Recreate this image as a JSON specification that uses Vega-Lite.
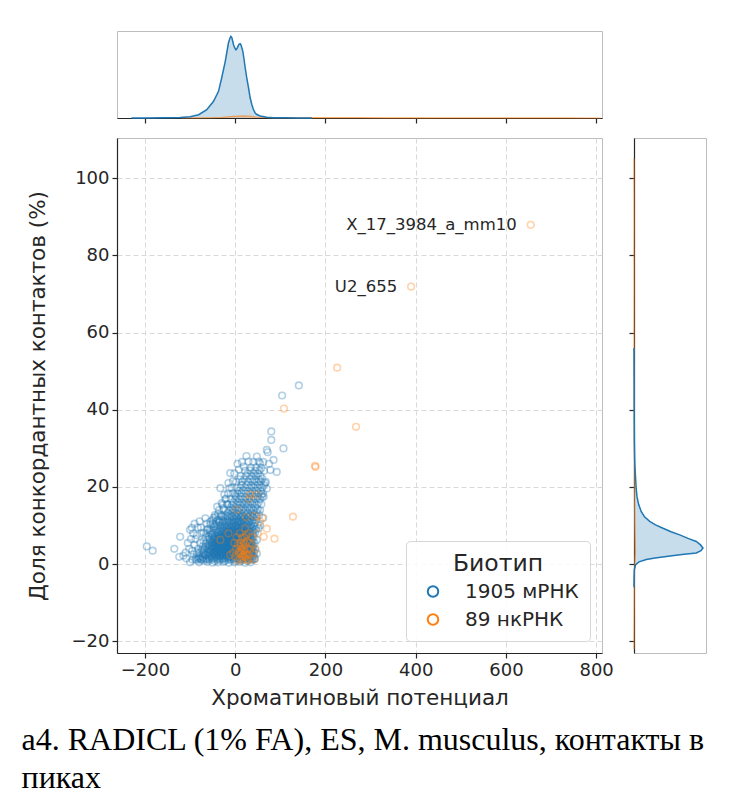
{
  "$schema": "https://vega.github.io/schema/vega-lite/v6.json",
  "padding": {"top": 30, "left": 21, "right": 5, "bottom": 5},
  "autosize": {"type": "pad"},
  "title": {
    "text": ["a4. RADICL (1% FA), ES, M. musculus, контакты в", "пиках"],
    "orient": "bottom", "anchor": "start", "frame": "bounds",
    "font": "Liberation Serif", "fontSize": 32, "fontWeight": "normal", "color": "#000000",
    "lineHeight": 38, "offset": 16, "dx": -5
  },
  "columns": 2,
  "spacing": {"row": 20, "column": 32},
  "bounds": "flush",
  "resolve": {"scale": {"color": "independent"}, "legend": {"color": "independent"}},
  "datasets": {
    "pts": [
      {"x":-85,"y":1.0,"g":"1905 мРНК"},{"x":-70,"y":0.9,"g":"1905 мРНК"},{"x":-58,"y":1.1,"g":"1905 мРНК"},{"x":-46,"y":0.8,"g":"1905 мРНК"},{"x":-34,"y":1.0,"g":"1905 мРНК"},{"x":-22,"y":0.9,"g":"1905 мРНК"},{"x":-10,"y":1.1,"g":"1905 мРНК"},{"x":2,"y":0.8,"g":"1905 мРНК"},{"x":14,"y":1.0,"g":"1905 мРНК"},{"x":26,"y":0.9,"g":"1905 мРНК"},{"x":38,"y":1.1,"g":"1905 мРНК"},
      {"x":-100,"y":0.5,"g":"1905 мРНК"},{"x":-80,"y":0.5,"g":"1905 мРНК"},{"x":-62,"y":0.6,"g":"1905 мРНК"},{"x":-50,"y":0.4,"g":"1905 мРНК"},{"x":-38,"y":0.5,"g":"1905 мРНК"},{"x":-26,"y":0.6,"g":"1905 мРНК"},{"x":-14,"y":0.4,"g":"1905 мРНК"},{"x":-2,"y":0.5,"g":"1905 мРНК"},{"x":10,"y":0.6,"g":"1905 мРНК"},{"x":22,"y":0.4,"g":"1905 мРНК"},{"x":34,"y":0.5,"g":"1905 мРНК"},
      {"x":-88,"y":1.3,"g":"1905 мРНК"},{"x":-76,"y":1.3,"g":"1905 мРНК"},{"x":-64,"y":1.2,"g":"1905 мРНК"},{"x":-52,"y":1.3,"g":"1905 мРНК"},{"x":-40,"y":1.2,"g":"1905 мРНК"},{"x":-28,"y":1.3,"g":"1905 мРНК"},{"x":-16,"y":1.2,"g":"1905 мРНК"},{"x":-4,"y":1.3,"g":"1905 мРНК"},{"x":8,"y":1.2,"g":"1905 мРНК"},{"x":20,"y":1.3,"g":"1905 мРНК"},{"x":32,"y":1.2,"g":"1905 мРНК"},{"x":42,"y":1.3,"g":"1905 мРНК"},
      {"x":-82,"y":1.45,"g":"1905 мРНК"},{"x":-70,"y":1.45,"g":"1905 мРНК"},{"x":-58,"y":1.45,"g":"1905 мРНК"},{"x":-46,"y":1.45,"g":"1905 мРНК"},{"x":-34,"y":1.45,"g":"1905 мРНК"},{"x":-22,"y":1.45,"g":"1905 мРНК"},{"x":-10,"y":1.45,"g":"1905 мРНК"},{"x":2,"y":1.45,"g":"1905 мРНК"},{"x":14,"y":1.45,"g":"1905 мРНК"},{"x":26,"y":1.45,"g":"1905 мРНК"},{"x":37,"y":1.45,"g":"1905 мРНК"},
      {"x":-78,"y":1.6,"g":"1905 мРНК"},{"x":-64,"y":1.5,"g":"1905 мРНК"},{"x":-52,"y":1.7,"g":"1905 мРНК"},{"x":-40,"y":1.6,"g":"1905 мРНК"},{"x":-28,"y":1.5,"g":"1905 мРНК"},{"x":-16,"y":1.7,"g":"1905 мРНК"},{"x":-4,"y":1.6,"g":"1905 мРНК"},{"x":8,"y":1.5,"g":"1905 мРНК"},{"x":20,"y":1.7,"g":"1905 мРНК"},{"x":32,"y":1.6,"g":"1905 мРНК"},{"x":44,"y":1.5,"g":"1905 мРНК"},
      {"x":-72,"y":1.9,"g":"1905 мРНК"},{"x":-60,"y":1.9,"g":"1905 мРНК"},{"x":-50,"y":2.0,"g":"1905 мРНК"},{"x":-42,"y":1.9,"g":"1905 мРНК"},{"x":-34,"y":2.0,"g":"1905 мРНК"},{"x":-26,"y":1.9,"g":"1905 мРНК"},{"x":-19,"y":2.0,"g":"1905 мРНК"},{"x":-12,"y":1.9,"g":"1905 мРНК"},{"x":-5,"y":2.0,"g":"1905 мРНК"},{"x":3,"y":1.9,"g":"1905 мРНК"},{"x":10,"y":2.0,"g":"1905 мРНК"},{"x":17,"y":1.9,"g":"1905 мРНК"},{"x":25,"y":2.0,"g":"1905 мРНК"},{"x":34,"y":1.9,"g":"1905 мРНК"},{"x":41,"y":2.0,"g":"1905 мРНК"},
      {"x":-55,"y":2.2,"g":"1905 мРНК"},{"x":-45,"y":2.3,"g":"1905 мРНК"},{"x":-36,"y":2.1,"g":"1905 мРНК"},{"x":-28,"y":2.2,"g":"1905 мРНК"},{"x":-20,"y":2.3,"g":"1905 мРНК"},{"x":-13,"y":2.1,"g":"1905 мРНК"},{"x":-6,"y":2.2,"g":"1905 мРНК"},{"x":1,"y":2.3,"g":"1905 мРНК"},{"x":8,"y":2.1,"g":"1905 мРНК"},{"x":15,"y":2.2,"g":"1905 мРНК"},{"x":22,"y":2.3,"g":"1905 мРНК"},{"x":30,"y":2.1,"g":"1905 мРНК"},{"x":38,"y":2.2,"g":"1905 мРНК"},
      {"x":-65,"y":2.4,"g":"1905 мРНК"},{"x":-53,"y":2.4,"g":"1905 мРНК"},{"x":-43,"y":2.4,"g":"1905 мРНК"},{"x":-35,"y":2.4,"g":"1905 мРНК"},{"x":-27,"y":2.4,"g":"1905 мРНК"},{"x":-19,"y":2.4,"g":"1905 мРНК"},{"x":-11,"y":2.4,"g":"1905 мРНК"},{"x":-4,"y":2.4,"g":"1905 мРНК"},{"x":3,"y":2.4,"g":"1905 мРНК"},{"x":10,"y":2.4,"g":"1905 мРНК"},{"x":18,"y":2.4,"g":"1905 мРНК"},{"x":26,"y":2.4,"g":"1905 мРНК"},{"x":34,"y":2.4,"g":"1905 мРНК"},
      {"x":-70,"y":2.6,"g":"1905 мРНК"},{"x":-48,"y":2.7,"g":"1905 мРНК"},{"x":-40,"y":2.6,"g":"1905 мРНК"},{"x":-31,"y":2.5,"g":"1905 мРНК"},{"x":-23,"y":2.7,"g":"1905 мРНК"},{"x":-16,"y":2.6,"g":"1905 мРНК"},{"x":-9,"y":2.5,"g":"1905 мРНК"},{"x":-2,"y":2.7,"g":"1905 мРНК"},{"x":5,"y":2.6,"g":"1905 мРНК"},{"x":13,"y":2.5,"g":"1905 мРНК"},{"x":21,"y":2.7,"g":"1905 мРНК"},{"x":29,"y":2.6,"g":"1905 мРНК"},
      {"x":-80,"y":2.9,"g":"1905 мРНК"},{"x":-58,"y":2.9,"g":"1905 мРНК"},{"x":-45,"y":2.8,"g":"1905 мРНК"},{"x":-37,"y":2.9,"g":"1905 мРНК"},{"x":-29,"y":2.8,"g":"1905 мРНК"},{"x":-21,"y":2.9,"g":"1905 мРНК"},{"x":-14,"y":2.8,"g":"1905 мРНК"},{"x":-7,"y":2.9,"g":"1905 мРНК"},{"x":0,"y":2.8,"g":"1905 мРНК"},{"x":7,"y":2.9,"g":"1905 мРНК"},{"x":14,"y":2.8,"g":"1905 мРНК"},{"x":21,"y":2.9,"g":"1905 мРНК"},{"x":28,"y":2.8,"g":"1905 мРНК"},{"x":36,"y":2.9,"g":"1905 мРНК"},
      {"x":-62,"y":3.1,"g":"1905 мРНК"},{"x":-50,"y":3.0,"g":"1905 мРНК"},{"x":-41,"y":3.2,"g":"1905 мРНК"},{"x":-33,"y":3.1,"g":"1905 мРНК"},{"x":-25,"y":3.0,"g":"1905 мРНК"},{"x":-17,"y":3.2,"g":"1905 мРНК"},{"x":-10,"y":3.1,"g":"1905 мРНК"},{"x":-3,"y":3.0,"g":"1905 мРНК"},{"x":4,"y":3.2,"g":"1905 мРНК"},{"x":11,"y":3.1,"g":"1905 мРНК"},{"x":18,"y":3.0,"g":"1905 мРНК"},{"x":26,"y":3.2,"g":"1905 мРНК"},{"x":34,"y":3.1,"g":"1905 мРНК"},{"x":42,"y":3.0,"g":"1905 мРНК"},
      {"x":-70,"y":3.3,"g":"1905 мРНК"},{"x":-57,"y":3.3,"g":"1905 мРНК"},{"x":-47,"y":3.3,"g":"1905 мРНК"},{"x":-38,"y":3.3,"g":"1905 мРНК"},{"x":-30,"y":3.3,"g":"1905 мРНК"},{"x":-22,"y":3.3,"g":"1905 мРНК"},{"x":-14,"y":3.3,"g":"1905 мРНК"},{"x":-7,"y":3.3,"g":"1905 мРНК"},{"x":0,"y":3.3,"g":"1905 мРНК"},{"x":7,"y":3.3,"g":"1905 мРНК"},{"x":14,"y":3.3,"g":"1905 мРНК"},{"x":21,"y":3.3,"g":"1905 мРНК"},{"x":29,"y":3.3,"g":"1905 мРНК"},{"x":38,"y":3.3,"g":"1905 мРНК"},
      {"x":-75,"y":3.5,"g":"1905 мРНК"},{"x":-54,"y":3.6,"g":"1905 мРНК"},{"x":-44,"y":3.4,"g":"1905 мРНК"},{"x":-35,"y":3.5,"g":"1905 мРНК"},{"x":-27,"y":3.6,"g":"1905 мРНК"},{"x":-19,"y":3.4,"g":"1905 мРНК"},{"x":-12,"y":3.5,"g":"1905 мРНК"},{"x":-5,"y":3.6,"g":"1905 мРНК"},{"x":2,"y":3.4,"g":"1905 мРНК"},{"x":9,"y":3.5,"g":"1905 мРНК"},{"x":16,"y":3.6,"g":"1905 мРНК"},{"x":23,"y":3.4,"g":"1905 мРНК"},{"x":31,"y":3.5,"g":"1905 мРНК"},
      {"x":-68,"y":3.8,"g":"1905 мРНК"},{"x":-52,"y":3.8,"g":"1905 мРНК"},{"x":-42,"y":3.7,"g":"1905 мРНК"},{"x":-33,"y":3.8,"g":"1905 мРНК"},{"x":-25,"y":3.7,"g":"1905 мРНК"},{"x":-17,"y":3.8,"g":"1905 мРНК"},{"x":-10,"y":3.7,"g":"1905 мРНК"},{"x":-3,"y":3.8,"g":"1905 мРНК"},{"x":4,"y":3.7,"g":"1905 мРНК"},{"x":11,"y":3.8,"g":"1905 мРНК"},{"x":18,"y":3.7,"g":"1905 мРНК"},{"x":25,"y":3.8,"g":"1905 мРНК"},{"x":33,"y":3.7,"g":"1905 мРНК"},{"x":44,"y":3.8,"g":"1905 мРНК"},
      {"x":-58,"y":4.0,"g":"1905 мРНК"},{"x":-47,"y":4.1,"g":"1905 мРНК"},{"x":-38,"y":3.9,"g":"1905 мРНК"},{"x":-30,"y":4.0,"g":"1905 мРНК"},{"x":-22,"y":4.1,"g":"1905 мРНК"},{"x":-14,"y":3.9,"g":"1905 мРНК"},{"x":-8,"y":4.0,"g":"1905 мРНК"},{"x":-1,"y":4.1,"g":"1905 мРНК"},{"x":6,"y":3.9,"g":"1905 мРНК"},{"x":12,"y":4.0,"g":"1905 мРНК"},{"x":19,"y":4.1,"g":"1905 мРНК"},{"x":27,"y":3.9,"g":"1905 мРНК"},{"x":36,"y":4.0,"g":"1905 мРНК"},
      {"x":-62,"y":4.2,"g":"1905 мРНК"},{"x":-51,"y":4.2,"g":"1905 мРНК"},{"x":-43,"y":4.2,"g":"1905 мРНК"},{"x":-35,"y":4.2,"g":"1905 мРНК"},{"x":-27,"y":4.2,"g":"1905 мРНК"},{"x":-19,"y":4.2,"g":"1905 мРНК"},{"x":-12,"y":4.2,"g":"1905 мРНК"},{"x":-5,"y":4.2,"g":"1905 мРНК"},{"x":2,"y":4.2,"g":"1905 мРНК"},{"x":9,"y":4.2,"g":"1905 мРНК"},{"x":15,"y":4.2,"g":"1905 мРНК"},{"x":22,"y":4.2,"g":"1905 мРНК"},{"x":30,"y":4.2,"g":"1905 мРНК"},{"x":39,"y":4.2,"g":"1905 мРНК"},
      {"x":-66,"y":4.4,"g":"1905 мРНК"},{"x":-50,"y":4.5,"g":"1905 мРНК"},{"x":-41,"y":4.3,"g":"1905 мРНК"},{"x":-32,"y":4.4,"g":"1905 мРНК"},{"x":-24,"y":4.5,"g":"1905 мРНК"},{"x":-16,"y":4.3,"g":"1905 мРНК"},{"x":-10,"y":4.4,"g":"1905 мРНК"},{"x":-3,"y":4.5,"g":"1905 мРНК"},{"x":4,"y":4.3,"g":"1905 мРНК"},{"x":10,"y":4.4,"g":"1905 мРНК"},{"x":17,"y":4.5,"g":"1905 мРНК"},{"x":25,"y":4.3,"g":"1905 мРНК"},{"x":33,"y":4.4,"g":"1905 мРНК"},
      {"x":-72,"y":4.6,"g":"1905 мРНК"},{"x":-56,"y":4.6,"g":"1905 мРНК"},{"x":-46,"y":4.7,"g":"1905 мРНК"},{"x":-37,"y":4.6,"g":"1905 мРНК"},{"x":-29,"y":4.7,"g":"1905 мРНК"},{"x":-21,"y":4.6,"g":"1905 мРНК"},{"x":-13,"y":4.7,"g":"1905 мРНК"},{"x":-7,"y":4.6,"g":"1905 мРНК"},{"x":0,"y":4.7,"g":"1905 мРНК"},{"x":7,"y":4.6,"g":"1905 мРНК"},{"x":14,"y":4.7,"g":"1905 мРНК"},{"x":21,"y":4.6,"g":"1905 мРНК"},{"x":28,"y":4.7,"g":"1905 мРНК"},{"x":37,"y":4.6,"g":"1905 мРНК"},
      {"x":-52,"y":4.8,"g":"1905 мРНК"},{"x":-43,"y":4.9,"g":"1905 мРНК"},{"x":-34,"y":4.7,"g":"1905 мРНК"},{"x":-26,"y":4.8,"g":"1905 мРНК"},{"x":-18,"y":4.9,"g":"1905 мРНК"},{"x":-11,"y":4.7,"g":"1905 мРНК"},{"x":-4,"y":4.8,"g":"1905 мРНК"},{"x":3,"y":4.9,"g":"1905 мРНК"},{"x":9,"y":4.7,"g":"1905 мРНК"},{"x":16,"y":4.8,"g":"1905 мРНК"},{"x":24,"y":4.9,"g":"1905 мРНК"},{"x":31,"y":4.7,"g":"1905 мРНК"},{"x":40,"y":4.8,"g":"1905 мРНК"},
      {"x":-57,"y":5.0,"g":"1905 мРНК"},{"x":-48,"y":5.0,"g":"1905 мРНК"},{"x":-39,"y":5.0,"g":"1905 мРНК"},{"x":-31,"y":5.0,"g":"1905 мРНК"},{"x":-23,"y":5.0,"g":"1905 мРНК"},{"x":-15,"y":5.0,"g":"1905 мРНК"},{"x":-8,"y":5.0,"g":"1905 мРНК"},{"x":-1,"y":5.0,"g":"1905 мРНК"},{"x":6,"y":5.0,"g":"1905 мРНК"},{"x":13,"y":5.0,"g":"1905 мРНК"},{"x":20,"y":5.0,"g":"1905 мРНК"},{"x":27,"y":5.0,"g":"1905 мРНК"},{"x":36,"y":5.0,"g":"1905 мРНК"},
      {"x":-60,"y":5.2,"g":"1905 мРНК"},{"x":-45,"y":5.3,"g":"1905 мРНК"},{"x":-36,"y":5.1,"g":"1905 мРНК"},{"x":-28,"y":5.2,"g":"1905 мРНК"},{"x":-20,"y":5.3,"g":"1905 мРНК"},{"x":-13,"y":5.1,"g":"1905 мРНК"},{"x":-6,"y":5.2,"g":"1905 мРНК"},{"x":1,"y":5.3,"g":"1905 мРНК"},{"x":7,"y":5.1,"g":"1905 мРНК"},{"x":14,"y":5.2,"g":"1905 мРНК"},{"x":21,"y":5.3,"g":"1905 мРНК"},{"x":29,"y":5.1,"g":"1905 мРНК"},
      {"x":-65,"y":5.4,"g":"1905 мРНК"},{"x":-52,"y":5.5,"g":"1905 мРНК"},{"x":-40,"y":5.4,"g":"1905 мРНК"},{"x":-32,"y":5.5,"g":"1905 мРНК"},{"x":-24,"y":5.4,"g":"1905 мРНК"},{"x":-16,"y":5.5,"g":"1905 мРНК"},{"x":-9,"y":5.4,"g":"1905 мРНК"},{"x":-3,"y":5.5,"g":"1905 мРНК"},{"x":4,"y":5.4,"g":"1905 мРНК"},{"x":11,"y":5.5,"g":"1905 мРНК"},{"x":18,"y":5.4,"g":"1905 мРНК"},{"x":25,"y":5.5,"g":"1905 мРНК"},{"x":33,"y":5.4,"g":"1905 мРНК"},{"x":43,"y":5.5,"g":"1905 мРНК"},
      {"x":-48,"y":5.7,"g":"1905 мРНК"},{"x":-39,"y":5.8,"g":"1905 мРНК"},{"x":-30,"y":5.6,"g":"1905 мРНК"},{"x":-22,"y":5.7,"g":"1905 мРНК"},{"x":-15,"y":5.8,"g":"1905 мРНК"},{"x":-8,"y":5.6,"g":"1905 мРНК"},{"x":-2,"y":5.7,"g":"1905 мРНК"},{"x":5,"y":5.8,"g":"1905 мРНК"},{"x":11,"y":5.6,"g":"1905 мРНК"},{"x":18,"y":5.7,"g":"1905 мРНК"},{"x":26,"y":5.8,"g":"1905 мРНК"},{"x":35,"y":5.6,"g":"1905 мРНК"},
      {"x":-52,"y":5.9,"g":"1905 мРНК"},{"x":-43,"y":5.9,"g":"1905 мРНК"},{"x":-35,"y":5.9,"g":"1905 мРНК"},{"x":-27,"y":5.9,"g":"1905 мРНК"},{"x":-19,"y":5.9,"g":"1905 мРНК"},{"x":-12,"y":5.9,"g":"1905 мРНК"},{"x":-5,"y":5.9,"g":"1905 мРНК"},{"x":2,"y":5.9,"g":"1905 мРНК"},{"x":8,"y":5.9,"g":"1905 мРНК"},{"x":15,"y":5.9,"g":"1905 мРНК"},{"x":22,"y":5.9,"g":"1905 мРНК"},{"x":30,"y":5.9,"g":"1905 мРНК"},{"x":39,"y":5.9,"g":"1905 мРНК"},
      {"x":-56,"y":6.1,"g":"1905 мРНК"},{"x":-41,"y":6.2,"g":"1905 мРНК"},{"x":-33,"y":6.0,"g":"1905 мРНК"},{"x":-25,"y":6.1,"g":"1905 мРНК"},{"x":-17,"y":6.2,"g":"1905 мРНК"},{"x":-10,"y":6.0,"g":"1905 мРНК"},{"x":-4,"y":6.1,"g":"1905 мРНК"},{"x":3,"y":6.2,"g":"1905 мРНК"},{"x":10,"y":6.0,"g":"1905 мРНК"},{"x":16,"y":6.1,"g":"1905 мРНК"},{"x":23,"y":6.2,"g":"1905 мРНК"},{"x":32,"y":6.0,"g":"1905 мРНК"},
      {"x":-62,"y":6.3,"g":"1905 мРНК"},{"x":-48,"y":6.4,"g":"1905 мРНК"},{"x":-37,"y":6.3,"g":"1905 мРНК"},{"x":-29,"y":6.4,"g":"1905 мРНК"},{"x":-21,"y":6.3,"g":"1905 мРНК"},{"x":-14,"y":6.4,"g":"1905 мРНК"},{"x":-7,"y":6.3,"g":"1905 мРНК"},{"x":0,"y":6.4,"g":"1905 мРНК"},{"x":6,"y":6.3,"g":"1905 мРНК"},{"x":13,"y":6.4,"g":"1905 мРНК"},{"x":19,"y":6.3,"g":"1905 мРНК"},{"x":26,"y":6.4,"g":"1905 мРНК"},{"x":35,"y":6.3,"g":"1905 мРНК"},
      {"x":-44,"y":6.6,"g":"1905 мРНК"},{"x":-35,"y":6.7,"g":"1905 мРНК"},{"x":-27,"y":6.5,"g":"1905 мРНК"},{"x":-19,"y":6.6,"g":"1905 мРНК"},{"x":-12,"y":6.7,"g":"1905 мРНК"},{"x":-6,"y":6.5,"g":"1905 мРНК"},{"x":1,"y":6.6,"g":"1905 мРНК"},{"x":8,"y":6.7,"g":"1905 мРНК"},{"x":14,"y":6.5,"g":"1905 мРНК"},{"x":21,"y":6.6,"g":"1905 мРНК"},{"x":29,"y":6.7,"g":"1905 мРНК"},{"x":38,"y":6.5,"g":"1905 мРНК"},
      {"x":-47,"y":6.8,"g":"1905 мРНК"},{"x":-39,"y":6.8,"g":"1905 мРНК"},{"x":-31,"y":6.8,"g":"1905 мРНК"},{"x":-23,"y":6.8,"g":"1905 мРНК"},{"x":-16,"y":6.8,"g":"1905 мРНК"},{"x":-9,"y":6.8,"g":"1905 мРНК"},{"x":-2,"y":6.8,"g":"1905 мРНК"},{"x":5,"y":6.8,"g":"1905 мРНК"},{"x":11,"y":6.8,"g":"1905 мРНК"},{"x":18,"y":6.8,"g":"1905 мРНК"},{"x":25,"y":6.8,"g":"1905 мРНК"},{"x":34,"y":6.8,"g":"1905 мРНК"},
      {"x":-50,"y":7.0,"g":"1905 мРНК"},{"x":-37,"y":7.1,"g":"1905 мРНК"},{"x":-29,"y":6.9,"g":"1905 мРНК"},{"x":-21,"y":7.0,"g":"1905 мРНК"},{"x":-14,"y":7.1,"g":"1905 мРНК"},{"x":-7,"y":6.9,"g":"1905 мРНК"},{"x":0,"y":7.0,"g":"1905 мРНК"},{"x":6,"y":7.1,"g":"1905 мРНК"},{"x":13,"y":6.9,"g":"1905 мРНК"},{"x":20,"y":7.0,"g":"1905 мРНК"},{"x":28,"y":7.1,"g":"1905 мРНК"},
      {"x":-58,"y":7.2,"g":"1905 мРНК"},{"x":-44,"y":7.3,"g":"1905 мРНК"},{"x":-33,"y":7.2,"g":"1905 мРНК"},{"x":-25,"y":7.3,"g":"1905 мРНК"},{"x":-17,"y":7.2,"g":"1905 мРНК"},{"x":-10,"y":7.3,"g":"1905 мРНК"},{"x":-4,"y":7.2,"g":"1905 мРНК"},{"x":3,"y":7.3,"g":"1905 мРНК"},{"x":9,"y":7.2,"g":"1905 мРНК"},{"x":16,"y":7.3,"g":"1905 мРНК"},{"x":23,"y":7.2,"g":"1905 мРНК"},{"x":31,"y":7.3,"g":"1905 мРНК"},{"x":41,"y":7.2,"g":"1905 мРНК"},
      {"x":-40,"y":7.5,"g":"1905 мРНК"},{"x":-31,"y":7.6,"g":"1905 мРНК"},{"x":-23,"y":7.4,"g":"1905 мРНК"},{"x":-15,"y":7.5,"g":"1905 мРНК"},{"x":-9,"y":7.6,"g":"1905 мРНК"},{"x":-3,"y":7.4,"g":"1905 мРНК"},{"x":4,"y":7.5,"g":"1905 мРНК"},{"x":10,"y":7.6,"g":"1905 мРНК"},{"x":17,"y":7.4,"g":"1905 мРНК"},{"x":25,"y":7.5,"g":"1905 мРНК"},{"x":33,"y":7.6,"g":"1905 мРНК"},
      {"x":-50,"y":7.8,"g":"1905 мРНК"},{"x":-36,"y":7.8,"g":"1905 мРНК"},{"x":-28,"y":7.8,"g":"1905 мРНК"},{"x":-20,"y":7.8,"g":"1905 мРНК"},{"x":-12,"y":7.8,"g":"1905 мРНК"},{"x":-5,"y":7.8,"g":"1905 мРНК"},{"x":2,"y":7.8,"g":"1905 мРНК"},{"x":9,"y":7.8,"g":"1905 мРНК"},{"x":16,"y":7.8,"g":"1905 мРНК"},{"x":23,"y":7.8,"g":"1905 мРНК"},{"x":30,"y":7.8,"g":"1905 мРНК"},{"x":39,"y":7.8,"g":"1905 мРНК"},
      {"x":-64,"y":8.0,"g":"1905 мРНК"},{"x":-46,"y":8.1,"g":"1905 мРНК"},{"x":-24,"y":7.9,"g":"1905 мРНК"},{"x":-16,"y":8.0,"g":"1905 мРНК"},{"x":-8,"y":8.1,"g":"1905 мРНК"},{"x":-1,"y":7.9,"g":"1905 мРНК"},{"x":6,"y":8.0,"g":"1905 мРНК"},{"x":12,"y":8.1,"g":"1905 мРНК"},{"x":19,"y":7.9,"g":"1905 мРНК"},{"x":27,"y":8.0,"g":"1905 мРНК"},{"x":35,"y":8.1,"g":"1905 мРНК"},
      {"x":-70,"y":8.2,"g":"1905 мРНК"},{"x":-54,"y":8.3,"g":"1905 мРНК"},{"x":-40,"y":8.2,"g":"1905 мРНК"},{"x":-30,"y":8.3,"g":"1905 мРНК"},{"x":-20,"y":8.2,"g":"1905 мРНК"},{"x":-12,"y":8.3,"g":"1905 мРНК"},{"x":-4,"y":8.2,"g":"1905 мРНК"},{"x":3,"y":8.3,"g":"1905 мРНК"},{"x":10,"y":8.2,"g":"1905 мРНК"},{"x":17,"y":8.3,"g":"1905 мРНК"},{"x":24,"y":8.2,"g":"1905 мРНК"},{"x":32,"y":8.3,"g":"1905 мРНК"},{"x":44,"y":8.2,"g":"1905 мРНК"},
      {"x":-36,"y":8.5,"g":"1905 мРНК"},{"x":-27,"y":8.6,"g":"1905 мРНК"},{"x":-19,"y":8.4,"g":"1905 мРНК"},{"x":-12,"y":8.5,"g":"1905 мРНК"},{"x":-5,"y":8.6,"g":"1905 мРНК"},{"x":2,"y":8.4,"g":"1905 мРНК"},{"x":9,"y":8.5,"g":"1905 мРНК"},{"x":15,"y":8.6,"g":"1905 мРНК"},{"x":22,"y":8.4,"g":"1905 мРНК"},{"x":30,"y":8.5,"g":"1905 мРНК"},{"x":40,"y":8.6,"g":"1905 мРНК"},
      {"x":-44,"y":8.8,"g":"1905 мРНК"},{"x":-32,"y":8.8,"g":"1905 мРНК"},{"x":-23,"y":8.8,"g":"1905 мРНК"},{"x":-15,"y":8.8,"g":"1905 мРНК"},{"x":-7,"y":8.8,"g":"1905 мРНК"},{"x":0,"y":8.8,"g":"1905 мРНК"},{"x":7,"y":8.8,"g":"1905 мРНК"},{"x":14,"y":8.8,"g":"1905 мРНК"},{"x":21,"y":8.8,"g":"1905 мРНК"},{"x":28,"y":8.8,"g":"1905 мРНК"},{"x":37,"y":8.8,"g":"1905 мРНК"},
      {"x":-60,"y":9.1,"g":"1905 мРНК"},{"x":-48,"y":9.2,"g":"1905 мРНК"},{"x":-38,"y":9.1,"g":"1905 мРНК"},{"x":-27,"y":9.2,"g":"1905 мРНК"},{"x":-18,"y":9.1,"g":"1905 мРНК"},{"x":-10,"y":9.2,"g":"1905 мРНК"},{"x":-3,"y":9.1,"g":"1905 мРНК"},{"x":4,"y":9.2,"g":"1905 мРНК"},{"x":11,"y":9.1,"g":"1905 мРНК"},{"x":18,"y":9.2,"g":"1905 мРНК"},{"x":25,"y":9.1,"g":"1905 мРНК"},{"x":33,"y":9.2,"g":"1905 мРНК"},{"x":46,"y":9.1,"g":"1905 мРНК"},
      {"x":-32,"y":9.6,"g":"1905 мРНК"},{"x":-22,"y":9.7,"g":"1905 мРНК"},{"x":-14,"y":9.5,"g":"1905 мРНК"},{"x":-7,"y":9.6,"g":"1905 мРНК"},{"x":0,"y":9.7,"g":"1905 мРНК"},{"x":7,"y":9.5,"g":"1905 мРНК"},{"x":13,"y":9.6,"g":"1905 мРНК"},{"x":20,"y":9.7,"g":"1905 мРНК"},{"x":28,"y":9.5,"g":"1905 мРНК"},{"x":37,"y":9.6,"g":"1905 мРНК"},
      {"x":-40,"y":9.9,"g":"1905 мРНК"},{"x":-28,"y":9.9,"g":"1905 мРНК"},{"x":-18,"y":9.9,"g":"1905 мРНК"},{"x":-9,"y":9.9,"g":"1905 мРНК"},{"x":-1,"y":9.9,"g":"1905 мРНК"},{"x":7,"y":9.9,"g":"1905 мРНК"},{"x":15,"y":9.9,"g":"1905 мРНК"},{"x":23,"y":9.9,"g":"1905 мРНК"},{"x":32,"y":9.9,"g":"1905 мРНК"},{"x":42,"y":9.9,"g":"1905 мРНК"},
      {"x":-55,"y":10.2,"g":"1905 мРНК"},{"x":-44,"y":10.3,"g":"1905 мРНК"},{"x":-33,"y":10.2,"g":"1905 мРНК"},{"x":-23,"y":10.3,"g":"1905 мРНК"},{"x":-13,"y":10.2,"g":"1905 мРНК"},{"x":-5,"y":10.3,"g":"1905 мРНК"},{"x":3,"y":10.2,"g":"1905 мРНК"},{"x":10,"y":10.3,"g":"1905 мРНК"},{"x":18,"y":10.2,"g":"1905 мРНК"},{"x":26,"y":10.3,"g":"1905 мРНК"},{"x":35,"y":10.2,"g":"1905 мРНК"},{"x":50,"y":10.3,"g":"1905 мРНК"},
      {"x":-28,"y":10.8,"g":"1905 мРНК"},{"x":-18,"y":10.9,"g":"1905 мРНК"},{"x":-9,"y":10.7,"g":"1905 мРНК"},{"x":-1,"y":10.8,"g":"1905 мРНК"},{"x":6,"y":10.9,"g":"1905 мРНК"},{"x":14,"y":10.7,"g":"1905 мРНК"},{"x":22,"y":10.8,"g":"1905 мРНК"},{"x":31,"y":10.9,"g":"1905 мРНК"},{"x":43,"y":10.7,"g":"1905 мРНК"},
      {"x":-35,"y":11.0,"g":"1905 мРНК"},{"x":-24,"y":11.0,"g":"1905 мРНК"},{"x":-14,"y":11.0,"g":"1905 мРНК"},{"x":-4,"y":11.0,"g":"1905 мРНК"},{"x":4,"y":11.0,"g":"1905 мРНК"},{"x":12,"y":11.0,"g":"1905 мРНК"},{"x":20,"y":11.0,"g":"1905 мРНК"},{"x":28,"y":11.0,"g":"1905 мРНК"},{"x":38,"y":11.0,"g":"1905 мРНК"},
      {"x":-50,"y":11.4,"g":"1905 мРНК"},{"x":-38,"y":11.5,"g":"1905 мРНК"},{"x":-27,"y":11.4,"g":"1905 мРНК"},{"x":-17,"y":11.5,"g":"1905 мРНК"},{"x":-7,"y":11.4,"g":"1905 мРНК"},{"x":1,"y":11.5,"g":"1905 мРНК"},{"x":9,"y":11.4,"g":"1905 мРНК"},{"x":17,"y":11.5,"g":"1905 мРНК"},{"x":26,"y":11.4,"g":"1905 мРНК"},{"x":35,"y":11.5,"g":"1905 мРНК"},{"x":46,"y":11.4,"g":"1905 мРНК"},
      {"x":-22,"y":12.0,"g":"1905 мРНК"},{"x":-12,"y":12.1,"g":"1905 мРНК"},{"x":-3,"y":11.9,"g":"1905 мРНК"},{"x":5,"y":12.0,"g":"1905 мРНК"},{"x":13,"y":12.1,"g":"1905 мРНК"},{"x":21,"y":11.9,"g":"1905 мРНК"},{"x":30,"y":12.0,"g":"1905 мРНК"},{"x":40,"y":12.1,"g":"1905 мРНК"},
      {"x":-28,"y":12.3,"g":"1905 мРНК"},{"x":-17,"y":12.3,"g":"1905 мРНК"},{"x":-7,"y":12.3,"g":"1905 мРНК"},{"x":2,"y":12.3,"g":"1905 мРНК"},{"x":11,"y":12.3,"g":"1905 мРНК"},{"x":19,"y":12.3,"g":"1905 мРНК"},{"x":28,"y":12.3,"g":"1905 мРНК"},{"x":37,"y":12.3,"g":"1905 мРНК"},{"x":47,"y":12.3,"g":"1905 мРНК"},
      {"x":-45,"y":12.7,"g":"1905 мРНК"},{"x":-32,"y":12.8,"g":"1905 мРНК"},{"x":-21,"y":12.7,"g":"1905 мРНК"},{"x":-11,"y":12.8,"g":"1905 мРНК"},{"x":-1,"y":12.7,"g":"1905 мРНК"},{"x":8,"y":12.8,"g":"1905 мРНК"},{"x":16,"y":12.7,"g":"1905 мРНК"},{"x":25,"y":12.8,"g":"1905 мРНК"},{"x":34,"y":12.7,"g":"1905 мРНК"},{"x":43,"y":12.8,"g":"1905 мРНК"},{"x":53,"y":12.7,"g":"1905 мРНК"},
      {"x":-16,"y":13.3,"g":"1905 мРНК"},{"x":-6,"y":13.4,"g":"1905 мРНК"},{"x":3,"y":13.2,"g":"1905 мРНК"},{"x":12,"y":13.3,"g":"1905 мРНК"},{"x":20,"y":13.4,"g":"1905 мРНК"},{"x":29,"y":13.2,"g":"1905 мРНК"},{"x":38,"y":13.3,"g":"1905 мРНК"},{"x":48,"y":13.4,"g":"1905 мРНК"},
      {"x":-36,"y":14.0,"g":"1905 мРНК"},{"x":-25,"y":14.1,"g":"1905 мРНК"},{"x":-14,"y":14.0,"g":"1905 мРНК"},{"x":-4,"y":14.1,"g":"1905 мРНК"},{"x":5,"y":14.0,"g":"1905 мРНК"},{"x":14,"y":14.1,"g":"1905 мРНК"},{"x":23,"y":14.0,"g":"1905 мРНК"},{"x":32,"y":14.1,"g":"1905 мРНК"},{"x":41,"y":14.0,"g":"1905 мРНК"},{"x":50,"y":14.1,"g":"1905 мРНК"},
      {"x":-10,"y":14.7,"g":"1905 мРНК"},{"x":0,"y":14.8,"g":"1905 мРНК"},{"x":9,"y":14.6,"g":"1905 мРНК"},{"x":18,"y":14.7,"g":"1905 мРНК"},{"x":27,"y":14.8,"g":"1905 мРНК"},{"x":36,"y":14.6,"g":"1905 мРНК"},{"x":45,"y":14.7,"g":"1905 мРНК"},
      {"x":-28,"y":15.4,"g":"1905 мРНК"},{"x":-17,"y":15.5,"g":"1905 мРНК"},{"x":-7,"y":15.4,"g":"1905 мРНК"},{"x":3,"y":15.5,"g":"1905 мРНК"},{"x":11,"y":15.4,"g":"1905 мРНК"},{"x":20,"y":15.5,"g":"1905 мРНК"},{"x":29,"y":15.4,"g":"1905 мРНК"},{"x":38,"y":15.5,"g":"1905 мРНК"},{"x":48,"y":15.4,"g":"1905 мРНК"},{"x":58,"y":15.5,"g":"1905 мРНК"},
      {"x":-4,"y":16.0,"g":"1905 мРНК"},{"x":6,"y":16.1,"g":"1905 мРНК"},{"x":15,"y":15.9,"g":"1905 мРНК"},{"x":24,"y":16.0,"g":"1905 мРНК"},{"x":33,"y":16.1,"g":"1905 мРНК"},{"x":42,"y":15.9,"g":"1905 мРНК"},{"x":52,"y":16.0,"g":"1905 мРНК"},
      {"x":-22,"y":16.8,"g":"1905 мРНК"},{"x":-10,"y":16.9,"g":"1905 мРНК"},{"x":0,"y":16.8,"g":"1905 мРНК"},{"x":9,"y":16.9,"g":"1905 мРНК"},{"x":18,"y":16.8,"g":"1905 мРНК"},{"x":27,"y":16.9,"g":"1905 мРНК"},{"x":36,"y":16.8,"g":"1905 мРНК"},{"x":45,"y":16.9,"g":"1905 мРНК"},{"x":55,"y":16.8,"g":"1905 мРНК"},
      {"x":2,"y":17.5,"g":"1905 мРНК"},{"x":12,"y":17.6,"g":"1905 мРНК"},{"x":22,"y":17.4,"g":"1905 мРНК"},{"x":31,"y":17.5,"g":"1905 мРНК"},{"x":40,"y":17.6,"g":"1905 мРНК"},{"x":50,"y":17.4,"g":"1905 мРНК"},{"x":60,"y":17.5,"g":"1905 мРНК"},
      {"x":-16,"y":18.3,"g":"1905 мРНК"},{"x":-5,"y":18.4,"g":"1905 мРНК"},{"x":5,"y":18.3,"g":"1905 мРНК"},{"x":14,"y":18.4,"g":"1905 мРНК"},{"x":24,"y":18.3,"g":"1905 мРНК"},{"x":34,"y":18.4,"g":"1905 мРНК"},{"x":43,"y":18.3,"g":"1905 мРНК"},{"x":52,"y":18.4,"g":"1905 мРНК"},{"x":62,"y":18.3,"g":"1905 мРНК"},
      {"x":8,"y":19.0,"g":"1905 мРНК"},{"x":18,"y":19.1,"g":"1905 мРНК"},{"x":28,"y":18.9,"g":"1905 мРНК"},{"x":38,"y":19.0,"g":"1905 мРНК"},{"x":47,"y":19.1,"g":"1905 мРНК"},{"x":57,"y":18.9,"g":"1905 мРНК"},
      {"x":-8,"y":19.8,"g":"1905 мРНК"},{"x":4,"y":19.9,"g":"1905 мРНК"},{"x":12,"y":19.8,"g":"1905 мРНК"},{"x":22,"y":19.9,"g":"1905 мРНК"},{"x":31,"y":19.8,"g":"1905 мРНК"},{"x":41,"y":19.9,"g":"1905 мРНК"},{"x":50,"y":19.8,"g":"1905 мРНК"},{"x":60,"y":19.9,"g":"1905 мРНК"},
      {"x":14,"y":20.5,"g":"1905 мРНК"},{"x":25,"y":20.6,"g":"1905 мРНК"},{"x":35,"y":20.4,"g":"1905 мРНК"},{"x":44,"y":20.5,"g":"1905 мРНК"},{"x":54,"y":20.6,"g":"1905 мРНК"},{"x":64,"y":20.4,"g":"1905 мРНК"},
      {"x":2,"y":21.3,"g":"1905 мРНК"},{"x":16,"y":21.4,"g":"1905 мРНК"},{"x":28,"y":21.3,"g":"1905 мРНК"},{"x":38,"y":21.4,"g":"1905 мРНК"},{"x":48,"y":21.3,"g":"1905 мРНК"},{"x":57,"y":21.4,"g":"1905 мРНК"},{"x":68,"y":21.3,"g":"1905 мРНК"},
      {"x":20,"y":22.0,"g":"1905 мРНК"},{"x":32,"y":22.1,"g":"1905 мРНК"},{"x":42,"y":21.9,"g":"1905 мРНК"},{"x":52,"y":22.0,"g":"1905 мРНК"},{"x":60,"y":22.1,"g":"1905 мРНК"},
      {"x":12,"y":22.8,"g":"1905 мРНК"},{"x":24,"y":22.9,"g":"1905 мРНК"},{"x":36,"y":22.8,"g":"1905 мРНК"},{"x":46,"y":22.9,"g":"1905 мРНК"},{"x":56,"y":22.8,"g":"1905 мРНК"},
      {"x":28,"y":23.5,"g":"1905 мРНК"},{"x":40,"y":23.6,"g":"1905 мРНК"},{"x":50,"y":23.4,"g":"1905 мРНК"},
      {"x":22,"y":24.2,"g":"1905 мРНК"},{"x":33,"y":24.3,"g":"1905 мРНК"},{"x":44,"y":24.2,"g":"1905 мРНК"},{"x":54,"y":24.3,"g":"1905 мРНК"},{"x":64,"y":24.2,"g":"1905 мРНК"},
      {"x":35,"y":25.0,"g":"1905 мРНК"},{"x":47,"y":25.1,"g":"1905 мРНК"},{"x":58,"y":24.9,"g":"1905 мРНК"},
      {"x":40,"y":26.5,"g":"1905 мРНК"},{"x":52,"y":26.6,"g":"1905 мРНК"},{"x":62,"y":26.5,"g":"1905 мРНК"},
      {"x":-95,"y":3.5,"g":"1905 мРНК"},{"x":-90,"y":5.0,"g":"1905 мРНК"},{"x":-85,"y":7.5,"g":"1905 мРНК"},{"x":-80,"y":2.0,"g":"1905 мРНК"},{"x":-78,"y":5.5,"g":"1905 мРНК"},{"x":-76,"y":9.5,"g":"1905 мРНК"},{"x":-72,"y":3.8,"g":"1905 мРНК"},{"x":-66,"y":7.0,"g":"1905 мРНК"},{"x":-63,"y":10.5,"g":"1905 мРНК"},{"x":-58,"y":6.5,"g":"1905 мРНК"},{"x":-55,"y":11.0,"g":"1905 мРНК"},{"x":-52,"y":7.8,"g":"1905 мРНК"},{"x":-48,"y":12.0,"g":"1905 мРНК"},{"x":-46,"y":9.8,"g":"1905 мРНК"},{"x":-42,"y":11.0,"g":"1905 мРНК"},{"x":-38,"y":13.0,"g":"1905 мРНК"},{"x":-35,"y":10.8,"g":"1905 мРНК"},{"x":-30,"y":12.5,"g":"1905 мРНК"},{"x":-26,"y":14.5,"g":"1905 мРНК"},{"x":-24,"y":18.0,"g":"1905 мРНК"},{"x":-18,"y":15.5,"g":"1905 мРНК"},{"x":-15,"y":21.0,"g":"1905 мРНК"},{"x":-5,"y":21.5,"g":"1905 мРНК"},{"x":-2,"y":23.5,"g":"1905 мРНК"},{"x":8,"y":24.5,"g":"1905 мРНК"},{"x":15,"y":26.5,"g":"1905 мРНК"},{"x":-108,"y":1.5,"g":"1905 мРНК"},{"x":-102,"y":4.0,"g":"1905 мРНК"},{"x":-98,"y":6.5,"g":"1905 мРНК"},{"x":-93,"y":8.0,"g":"1905 мРНК"},{"x":-86,"y":1.8,"g":"1905 мРНК"},{"x":-83,"y":9.5,"g":"1905 мРНК"},{"x":-75,"y":1.2,"g":"1905 мРНК"},{"x":-60,"y":2.3,"g":"1905 мРНК"},
      {"x":-196,"y":4.6,"g":"1905 мРНК"},{"x":-183,"y":3.5,"g":"1905 мРНК"},{"x":-135,"y":4.0,"g":"1905 мРНК"},{"x":-122,"y":7.1,"g":"1905 мРНК"},{"x":-124,"y":1.9,"g":"1905 мРНК"},{"x":-100,"y":8.9,"g":"1905 мРНК"},{"x":-96,"y":9.4,"g":"1905 мРНК"},{"x":-79,"y":11.1,"g":"1905 мРНК"},{"x":-66,"y":11.9,"g":"1905 мРНК"},{"x":-110,"y":3.0,"g":"1905 мРНК"},{"x":-105,"y":5.5,"g":"1905 мРНК"},{"x":-92,"y":2.5,"g":"1905 мРНК"},{"x":-88,"y":6.5,"g":"1905 мРНК"},{"x":-82,"y":4.0,"g":"1905 мРНК"},{"x":-75,"y":8.0,"g":"1905 мРНК"},{"x":-70,"y":6.0,"g":"1905 мРНК"},{"x":-68,"y":2.5,"g":"1905 мРНК"},{"x":-62,"y":9.0,"g":"1905 мРНК"},{"x":-56,"y":8.8,"g":"1905 мРНК"},{"x":-50,"y":10.5,"g":"1905 мРНК"},{"x":-44,"y":12.2,"g":"1905 мРНК"},{"x":-40,"y":14.9,"g":"1905 мРНК"},{"x":-30,"y":15.8,"g":"1905 мРНК"},{"x":-33,"y":19.7,"g":"1905 мРНК"},{"x":-13,"y":19.7,"g":"1905 мРНК"},{"x":-11,"y":23.6,"g":"1905 мРНК"},{"x":-7,"y":14.1,"g":"1905 мРНК"},{"x":-90,"y":10.5,"g":"1905 мРНК"},{"x":-85,"y":3.0,"g":"1905 мРНК"},{"x":-115,"y":2.2,"g":"1905 мРНК"},{"x":-95,"y":1.2,"g":"1905 мРНК"},{"x":-20,"y":17.0,"g":"1905 мРНК"},{"x":0,"y":18.0,"g":"1905 мРНК"},
      {"x":18.5,"y":25.3,"g":"1905 мРНК"},{"x":29.6,"y":26.6,"g":"1905 мРНК"},{"x":48,"y":27.9,"g":"1905 мРНК"},{"x":55,"y":26.1,"g":"1905 мРНК"},{"x":70,"y":29.6,"g":"1905 мРНК"},{"x":78,"y":24.4,"g":"1905 мРНК"},{"x":92,"y":23.9,"g":"1905 мРНК"},{"x":107,"y":30.0,"g":"1905 мРНК"},{"x":80,"y":34.4,"g":"1905 мРНК"},{"x":80,"y":32.2,"g":"1905 мРНК"},{"x":104,"y":43.7,"g":"1905 мРНК"},{"x":141,"y":46.3,"g":"1905 мРНК"},{"x":70,"y":19.6,"g":"1905 мРНК"},{"x":63,"y":17.5,"g":"1905 мРНК"},{"x":55,"y":14.0,"g":"1905 мРНК"},{"x":52,"y":9.3,"g":"1905 мРНК"},{"x":48,"y":6.3,"g":"1905 мРНК"},{"x":48,"y":2.8,"g":"1905 мРНК"},{"x":66,"y":21.0,"g":"1905 мРНК"},{"x":58,"y":18.0,"g":"1905 мРНК"},{"x":62,"y":12.0,"g":"1905 мРНК"},{"x":55,"y":10.0,"g":"1905 мРНК"},{"x":10,"y":22.0,"g":"1905 мРНК"},{"x":5,"y":26.0,"g":"1905 мРНК"},{"x":25,"y":28.0,"g":"1905 мРНК"},{"x":75,"y":26.0,"g":"1905 мРНК"},{"x":85,"y":27.0,"g":"1905 мРНК"},{"x":72,"y":29.0,"g":"1905 мРНК"},
      {"x":655,"y":87.9,"g":"89 нкРНК"},{"x":390,"y":71.9,"g":"89 нкРНК"},{"x":226,"y":50.9,"g":"89 нкРНК"},{"x":108,"y":40.3,"g":"89 нкРНК"},{"x":268,"y":35.6,"g":"89 нкРНК"},{"x":177,"y":25.5,"g":"89 нкРНК"},{"x":178,"y":25.2,"g":"89 нкРНК"},{"x":128,"y":12.3,"g":"89 нкРНК"},{"x":87,"y":6.6,"g":"89 нкРНК"},{"x":70,"y":9.2,"g":"89 нкРНК"},{"x":63,"y":7.1,"g":"89 нкРНК"},{"x":55,"y":11.0,"g":"89 нкРНК"},{"x":48,"y":18.0,"g":"89 нкРНК"},{"x":30,"y":16.9,"g":"89 нкРНК"},{"x":33,"y":18.0,"g":"89 нкРНК"},{"x":24,"y":12.2,"g":"89 нкРНК"},{"x":22,"y":9.3,"g":"89 нкРНК"},{"x":4,"y":14.1,"g":"89 нкРНК"},{"x":-33,"y":6.3,"g":"89 нкРНК"},{"x":-15,"y":8.0,"g":"89 нкРНК"},{"x":-11,"y":2.4,"g":"89 нкРНК"},{"x":11,"y":4.6,"g":"89 нкРНК"},
      {"x":5,"y":1.0,"g":"89 нкРНК"},{"x":10,"y":1.5,"g":"89 нкРНК"},{"x":15,"y":1.0,"g":"89 нкРНК"},{"x":20,"y":2.0,"g":"89 нкРНК"},{"x":25,"y":1.2,"g":"89 нкРНК"},{"x":30,"y":2.5,"g":"89 нкРНК"},{"x":35,"y":1.5,"g":"89 нкРНК"},{"x":40,"y":3.0,"g":"89 нкРНК"},{"x":8,"y":3.0,"g":"89 нкРНК"},{"x":13,"y":2.8,"g":"89 нкРНК"},{"x":18,"y":3.5,"g":"89 нкРНК"},{"x":23,"y":3.0,"g":"89 нкРНК"},{"x":28,"y":4.0,"g":"89 нкРНК"},{"x":33,"y":3.8,"g":"89 нкРНК"},{"x":6,"y":5.0,"g":"89 нкРНК"},{"x":12,"y":5.5,"g":"89 нкРНК"},{"x":17,"y":4.8,"g":"89 нкРНК"},{"x":22,"y":5.2,"g":"89 нкРНК"},{"x":27,"y":6.0,"g":"89 нкРНК"},{"x":32,"y":5.5,"g":"89 нкРНК"},{"x":38,"y":5.0,"g":"89 нкРНК"},{"x":15,"y":6.8,"g":"89 нкРНК"},{"x":20,"y":7.0,"g":"89 нкРНК"},{"x":25,"y":7.5,"g":"89 нкРНК"},{"x":30,"y":8.0,"g":"89 нкРНК"},{"x":10,"y":8.0,"g":"89 нкРНК"},{"x":0,"y":2.0,"g":"89 нкРНК"},{"x":2,"y":4.0,"g":"89 нкРНК"},{"x":45,"y":4.0,"g":"89 нкРНК"},{"x":42,"y":1.2,"g":"89 нкРНК"},{"x":16,"y":2.0,"g":"89 нкРНК"},{"x":21,"y":4.0,"g":"89 нкРНК"},{"x":26,"y":2.3,"g":"89 нкРНК"},{"x":14,"y":4.0,"g":"89 нкРНК"},{"x":19,"y":5.8,"g":"89 нкРНК"},{"x":29,"y":1.0,"g":"89 нкРНК"},{"x":36,"y":7.0,"g":"89 нкРНК"},{"x":3,"y":7.0,"g":"89 нкРНК"},{"x":-5,"y":3.0,"g":"89 нкРНК"},{"x":-2,"y":5.5,"g":"89 нкРНК"},{"x":50,"y":8.0,"g":"89 нкРНК"},{"x":60,"y":12.0,"g":"89 нкРНК"},{"x":44,"y":12.5,"g":"89 нкРНК"},{"x":18,"y":2.5,"g":"89 нкРНК"},{"x":23,"y":1.8,"g":"89 нкРНК"},{"x":12,"y":3.5,"g":"89 нкРНК"}
    ],
    "labels": [
      {"x":655,"y":87.9,"label":"X_17_3984_a_mm10"},
      {"x":390,"y":71.9,"label":"U2_655"}
    ],
    "kdex": [
      {"x":-230,"d":0,"g":"1905 мРНК"},{"x":-200,"d":0.1,"g":"1905 мРНК"},{"x":-160,"d":0.15,"g":"1905 мРНК"},{"x":-122,"d":0.4,"g":"1905 мРНК"},{"x":-100,"d":1.3,"g":"1905 мРНК"},{"x":-81,"d":3.3,"g":"1905 мРНК"},{"x":-63,"d":8.3,"g":"1905 мРНК"},{"x":-48,"d":16.7,"g":"1905 мРНК"},{"x":-37,"d":26.7,"g":"1905 мРНК"},{"x":-30,"d":40,"g":"1905 мРНК"},{"x":-22,"d":56.7,"g":"1905 мРНК"},{"x":-15,"d":75,"g":"1905 мРНК"},{"x":-12,"d":79.5,"g":"1905 мРНК"},{"x":-9.6,"d":81.7,"g":"1905 мРНК"},{"x":-7.5,"d":80.5,"g":"1905 мРНК"},{"x":-3.7,"d":73.3,"g":"1905 мРНК"},{"x":-1,"d":70,"g":"1905 мРНК"},{"x":1.5,"d":68.3,"g":"1905 мРНК"},{"x":4,"d":69.5,"g":"1905 мРНК"},{"x":8,"d":73.5,"g":"1905 мРНК"},{"x":10.8,"d":74.3,"g":"1905 мРНК"},{"x":12.5,"d":73.5,"g":"1905 мРНК"},{"x":16.9,"d":66.7,"g":"1905 мРНК"},{"x":19.5,"d":59,"g":"1905 мРНК"},{"x":22.2,"d":50,"g":"1905 мРНК"},{"x":26,"d":39,"g":"1905 мРНК"},{"x":29.6,"d":30,"g":"1905 мРНК"},{"x":33,"d":20.5,"g":"1905 мРНК"},{"x":37,"d":13.3,"g":"1905 мРНК"},{"x":40,"d":9,"g":"1905 мРНК"},{"x":44.3,"d":5,"g":"1905 мРНК"},{"x":48,"d":3.5,"g":"1905 мРНК"},{"x":55.4,"d":2,"g":"1905 мРНК"},{"x":70,"d":0.7,"g":"1905 мРНК"},{"x":85,"d":0.3,"g":"1905 мРНК"},{"x":110,"d":0.15,"g":"1905 мРНК"},{"x":140,"d":0.1,"g":"1905 мРНК"},{"x":170,"d":0,"g":"1905 мРНК"},
      {"x":-120,"d":0,"g":"89 нкРНК"},{"x":-80,"d":0.1,"g":"89 нкРНК"},{"x":-50,"d":0.3,"g":"89 нкРНК"},{"x":-30,"d":0.7,"g":"89 нкРНК"},{"x":-10,"d":1.4,"g":"89 нкРНК"},{"x":5,"d":1.9,"g":"89 нкРНК"},{"x":18,"d":2.1,"g":"89 нкРНК"},{"x":30,"d":1.8,"g":"89 нкРНК"},{"x":45,"d":1.1,"g":"89 нкРНК"},{"x":60,"d":0.6,"g":"89 нкРНК"},{"x":80,"d":0.35,"g":"89 нкРНК"},{"x":110,"d":0.3,"g":"89 нкРНК"},{"x":140,"d":0.3,"g":"89 нкРНК"},{"x":180,"d":0.35,"g":"89 нкРНК"},{"x":220,"d":0.3,"g":"89 нкРНК"},{"x":270,"d":0.28,"g":"89 нкРНК"},{"x":330,"d":0.15,"g":"89 нкРНК"},{"x":390,"d":0.2,"g":"89 нкРНК"},{"x":450,"d":0.08,"g":"89 нкРНК"},{"x":520,"d":0.03,"g":"89 нкРНК"},{"x":600,"d":0.05,"g":"89 нкРНК"},{"x":655,"d":0.12,"g":"89 нкРНК"},{"x":720,"d":0.05,"g":"89 нкРНК"},{"x":790,"d":0.01,"g":"89 нкРНК"},{"x":810,"d":0,"g":"89 нкРНК"}
    ],
    "kdey": [
      {"y":-6,"d":0,"g":"1905 мРНК"},{"y":-3,"d":0.1,"g":"1905 мРНК"},{"y":-1.4,"d":0.3,"g":"1905 мРНК"},{"y":-0.1,"d":1.7,"g":"1905 мРНК"},{"y":0.6,"d":5,"g":"1905 мРНК"},{"y":1.2,"d":12.3,"g":"1905 мРНК"},{"y":1.6,"d":21,"g":"1905 мРНК"},{"y":2.0,"d":32.3,"g":"1905 мРНК"},{"y":2.5,"d":48,"g":"1905 мРНК"},{"y":2.9,"d":62.3,"g":"1905 мРНК"},{"y":3.5,"d":67,"g":"1905 мРНК"},{"y":4.2,"d":69,"g":"1905 мРНК"},{"y":5.0,"d":66.5,"g":"1905 мРНК"},{"y":5.9,"d":62.3,"g":"1905 мРНК"},{"y":6.7,"d":54,"g":"1905 мРНК"},{"y":7.6,"d":45.7,"g":"1905 мРНК"},{"y":8.4,"d":37,"g":"1905 мРНК"},{"y":9.3,"d":29,"g":"1905 мРНК"},{"y":10.2,"d":21.5,"g":"1905 мРНК"},{"y":11.1,"d":15.7,"g":"1905 мРНК"},{"y":12.3,"d":10.5,"g":"1905 мРНК"},{"y":13.6,"d":7.3,"g":"1905 мРНК"},{"y":15.5,"d":4.6,"g":"1905 мРНК"},{"y":17.5,"d":3,"g":"1905 мРНК"},{"y":19.5,"d":2.2,"g":"1905 мРНК"},{"y":21.8,"d":1.7,"g":"1905 мРНК"},{"y":24.5,"d":1.1,"g":"1905 мРНК"},{"y":27,"d":0.7,"g":"1905 мРНК"},{"y":32,"d":0.35,"g":"1905 мРНК"},{"y":40,"d":0.2,"g":"1905 мРНК"},{"y":46,"d":0.15,"g":"1905 мРНК"},{"y":52,"d":0.05,"g":"1905 мРНК"},{"y":56,"d":0,"g":"1905 мРНК"},
      {"y":-22,"d":0,"g":"89 нкРНК"},{"y":-15,"d":0.1,"g":"89 нкРНК"},{"y":-5,"d":0.3,"g":"89 нкРНК"},{"y":0,"d":0.8,"g":"89 нкРНК"},{"y":3,"d":1.5,"g":"89 нкРНК"},{"y":6,"d":1.3,"g":"89 нкРНК"},{"y":10,"d":0.8,"g":"89 нкРНК"},{"y":15,"d":0.5,"g":"89 нкРНК"},{"y":20,"d":0.4,"g":"89 нкРНК"},{"y":26,"d":0.4,"g":"89 нкРНК"},{"y":35,"d":0.3,"g":"89 нкРНК"},{"y":40,"d":0.3,"g":"89 нкРНК"},{"y":50,"d":0.2,"g":"89 нкРНК"},{"y":60,"d":0.1,"g":"89 нкРНК"},{"y":72,"d":0.15,"g":"89 нкРНК"},{"y":80,"d":0.1,"g":"89 нкРНК"},{"y":88,"d":0.15,"g":"89 нкРНК"},{"y":95,"d":0.1,"g":"89 нкРНК"},{"y":105,"d":0,"g":"89 нкРНК"}
    ]
  },
  "concat": [
    {
      "width": 485, "height": 87,
      "data": {"name": "kdex"},
      "encoding": {
        "x": {"field": "x", "type": "quantitative", "scale": {"domain": [-262, 813], "nice": false, "zero": false},
              "axis": {"values": [-200, 0, 200, 400, 600, 800], "labels": false, "title": null, "grid": false, "domain": true}},
        "y": {"field": "d", "type": "quantitative", "stack": null, "scale": {"domain": [0, 87], "nice": false}, "axis": null},
        "color": {"field": "g", "type": "nominal", "scale": {"domain": ["1905 мРНК", "89 нкРНК"], "range": ["#1f77b4", "#ff7f0e"]}, "legend": null}
      },
      "layer": [
        {"mark": {"type": "area", "opacity": 0.25}},
        {"transform": [{"filter": "datum.g === '89 нкРНК'"}], "mark": {"type": "line", "strokeWidth": 1.2, "opacity": 0.6}},
        {"transform": [{"filter": "datum.g === '1905 мРНК'"}], "mark": {"type": "line", "strokeWidth": 1.5}}
      ]
    },
    {
      "width": 72, "height": 87,
      "data": {"values": [{"a": 0}]},
      "mark": {"type": "point", "opacity": 0},
      "encoding": {},
      "view": {"stroke": null}
    },
    {
      "width": 485, "height": 515,
      "layer": [
        {
          "data": {"name": "pts"},
          "mark": {"type": "point", "filled": false, "size": 44, "strokeWidth": 1.6, "opacity": 0.34},
          "encoding": {
            "x": {"field": "x", "type": "quantitative", "scale": {"domain": [-262, 813], "nice": false, "zero": false},
                  "axis": {"values": [-200, 0, 200, 400, 600, 800], "title": "Хроматиновый потенциал", "grid": true, "labelFlush": false, "labelOverlap": false, "titlePadding": 8}},
            "y": {"field": "y", "type": "quantitative", "scale": {"domain": [-23, 110.4], "nice": false, "zero": false},
                  "axis": {"values": [-20, 0, 20, 40, 60, 80, 100], "title": "Доля конкордантных контактов (%)", "grid": true, "labelOverlap": false, "titlePadding": 22}},
            "color": {"field": "g", "type": "nominal", "scale": {"domain": ["1905 мРНК", "89 нкРНК"], "range": ["#1f77b4", "#ff7f0e"]},
                      "legend": {"title": "Биотип", "orient": "bottom-right"}}
          }
        },
        {
          "data": {"name": "labels"},
          "mark": {"type": "text", "align": "right", "baseline": "middle", "dx": -14, "fontSize": 16.5, "color": "#262626", "font": "DejaVu Sans"},
          "encoding": {
            "x": {"field": "x", "type": "quantitative"},
            "y": {"field": "y", "type": "quantitative"},
            "text": {"field": "label"}
          }
        }
      ]
    },
    {
      "width": 72, "height": 515,
      "data": {"name": "kdey"},
      "encoding": {
        "y": {"field": "y", "type": "quantitative", "scale": {"domain": [-23, 110.4], "nice": false, "zero": false},
              "axis": {"values": [-20, 0, 20, 40, 60, 80, 100], "labels": false, "title": null, "grid": false, "domain": true}},
        "x": {"field": "d", "type": "quantitative", "stack": null, "scale": {"domain": [0, 72], "nice": false}, "axis": null},
        "color": {"field": "g", "type": "nominal", "scale": {"domain": ["1905 мРНК", "89 нкРНК"], "range": ["#1f77b4", "#ff7f0e"]}, "legend": null}
      },
      "layer": [
        {"mark": {"type": "area", "opacity": 0.25, "orient": "horizontal"}},
        {"transform": [{"filter": "datum.g === '89 нкРНК'"}], "mark": {"type": "line", "strokeWidth": 1.2, "opacity": 0.6, "orient": "horizontal"}, "encoding": {"order": {"field": "y", "type": "quantitative"}}},
        {"transform": [{"filter": "datum.g === '1905 мРНК'"}], "mark": {"type": "line", "strokeWidth": 1.5, "orient": "horizontal"}, "encoding": {"order": {"field": "y", "type": "quantitative"}}}
      ]
    }
  ],
  "config": {
    "font": "DejaVu Sans",
    "view": {"stroke": "#bdbdbd", "strokeWidth": 1},
    "axis": {
      "domainColor": "#262626", "domainWidth": 1.2, "tickColor": "#262626", "tickWidth": 1.2, "tickSize": 5,
      "labelColor": "#262626", "titleColor": "#262626", "labelFont": "DejaVu Sans", "titleFont": "DejaVu Sans",
      "labelFontSize": 18, "titleFontSize": 21.5, "titleFontWeight": "normal",
      "gridColor": "#d9d9d9", "gridDash": [5, 3], "gridWidth": 1, "labelPadding": 3
    },
    "legend": {
      "offset": 12, "fillColor": "rgba(255,255,255,0.85)", "strokeColor": "#d6d6d6", "cornerRadius": 4, "padding": 11,
      "titleFont": "DejaVu Sans", "titleFontSize": 23.5, "titleFontWeight": "normal", "titleColor": "#262626", "titleAnchor": "middle", "titlePadding": 6,
      "labelFont": "DejaVu Sans", "labelFontSize": 20, "labelColor": "#262626", "labelOffset": 22, "symbolOffset": 6,
      "symbolSize": 110, "symbolStrokeWidth": 2, "symbolOpacity": 1, "symbolType": "circle", "rowPadding": 8
    }
  }
}
